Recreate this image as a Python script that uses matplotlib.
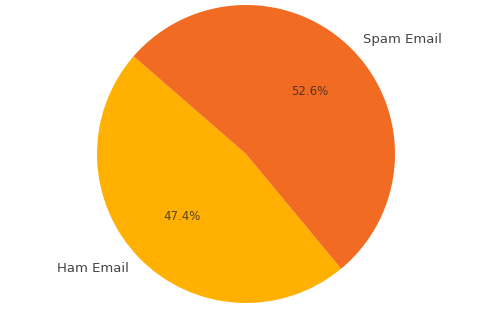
import matplotlib.pyplot as plt

labels = ['Ham Email', 'Spam Email']
shares = [47.4, 52.6]
colors = ['#FFB000', '#F26B22']

fig = plt.figure(figsize=(4.8, 3.33), dpi=100)
ax = fig.add_axes([0, 0, 1, 1])

wedges, texts, autotexts = ax.pie(shares, labels=labels, colors=colors,
                                  autopct='%1.1f%%', startangle=139,
                                  textprops={'fontsize': 9.5, 'color': '#444444'})
for t in autotexts:
    t.set_fontsize(8.5)
    t.set_color('#222222')
    t.set_alpha(0.75)

# place the pie like the reference
r = 149
ax.set_xlim(-246 / r, (480 - 246) / r)
ax.set_ylim(-179 / r, (333 - 179) / r)
ax.set_aspect('auto')
ax.axis('off')

fig.savefig('out.png', dpi=100)
